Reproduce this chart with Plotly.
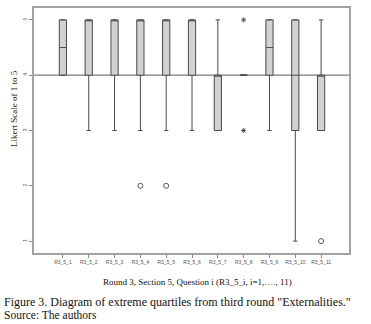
import plotly.graph_objects as go

categories = ["R3_5_1", "R3_5_2", "R3_5_3", "R3_5_4", "R3_5_5", "R3_5_6",
              "R3_5_7", "R3_5_8", "R3_5_9", "R3_5_10", "R3_5_11"]
q1 =     [4, 4, 4, 4, 4, 4, 3, 4, 4, 3, 3]
median = [4.5, 5, 5, 5, 5, 5, 4, 4, 4.5, 4, 4]
q3 =     [5, 5, 5, 5, 5, 5, 4, 4, 5, 5, 4]
lower =  [4, 3, 3, 3, 3, 3, 3, 4, 3, 1, 3]
upper =  [5, 5, 5, 5, 5, 5, 5, 4, 5, 5, 5]

outlier_cats = ["R3_5_4", "R3_5_5", "R3_5_11"]
outlier_vals = [2, 2, 1]
extreme_cats = ["R3_5_8", "R3_5_8"]
extreme_vals = [5, 3]

y_ticks = [1, 2, 3, 4, 5]
ref_value = 4

serif = "Liberation Serif, Times New Roman, serif"
frame = "#a2a2a2"

fig = go.Figure()
fig.add_trace(go.Box(
    x=categories, q1=q1, median=median, q3=q3,
    lowerfence=lower, upperfence=upper,
    fillcolor="#d2d2d2", line=dict(color="#4a4a4a", width=1),
    width=0.28, whiskerwidth=0.6, boxpoints=False, showlegend=False,
))
fig.add_trace(go.Scatter(
    x=outlier_cats, y=outlier_vals, mode="markers",
    marker=dict(symbol="circle-open", size=5, color="#555555", line=dict(width=1)),
    showlegend=False,
))
fig.add_trace(go.Scatter(
    x=extreme_cats, y=extreme_vals, mode="markers",
    marker=dict(symbol="asterisk-open", size=4, color="#555555", line=dict(width=1)),
    showlegend=False,
))

fig.add_shape(type="line", xref="paper", x0=0, x1=1, yref="y", y0=ref_value, y1=ref_value,
              line=dict(color="#7a7a7a", width=1.3), layer="below")

fig.update_layout(
    width=371, height=324,
    margin=dict(l=34, r=22, t=6, b=71),
    paper_bgcolor="white", plot_bgcolor="white",
    xaxis=dict(
        type="category", range=[-1.12, 11.08],
        showline=True, linecolor=frame, linewidth=1.5, mirror=True,
        ticks="outside", ticklen=3, tickcolor="#888888",
        tickfont=dict(family="Arial, Liberation Sans, sans-serif", size=5, color="#555555"),
        showgrid=False, zeroline=False, tickangle=0,
    ),
    yaxis=dict(
        range=[0.785, 5.215], tickvals=y_ticks, ticktext=[str(v) for v in y_ticks],
        showline=True, linecolor=frame, linewidth=1.5, mirror=True,
        ticks="outside", ticklen=3, tickcolor="#888888",
        tickfont=dict(family="Arial, Liberation Sans, sans-serif", size=5, color="#555555"),
        tickangle=-90,
        showgrid=False, zeroline=False,
    ),
    annotations=[
        dict(text="Likert Scale of 1 to 5", xref="paper", yref="paper",
             x=-0.062, y=0.59, xanchor="center", yanchor="middle", textangle=-90,
             showarrow=False, font=dict(family=serif, size=9, color="#222222")),
        dict(text="Round 3, Section 5, Question i (R3_5_i, i=1,…., 11)", xref="paper", yref="paper",
             x=0.52, y=-0.12, xanchor="center", yanchor="middle",
             showarrow=False, font=dict(family=serif, size=9, color="#111111")),
        dict(text="Figure 3. Diagram of extreme quartiles from third round \"Externalities.\"",
             xref="paper", yref="paper", x=-0.103, y=-0.198, xanchor="left", yanchor="middle",
             showarrow=False, font=dict(family=serif, size=12, color="#111111")),
        dict(text="Source: The authors",
             xref="paper", yref="paper", x=-0.103, y=-0.252, xanchor="left", yanchor="middle",
             showarrow=False, font=dict(family=serif, size=11.5, color="#111111")),
    ],
)

fig.write_html("out.html", config={"displayModeBar": False},
               post_script="document.body.style.margin='0';document.body.style.overflow='hidden';")
